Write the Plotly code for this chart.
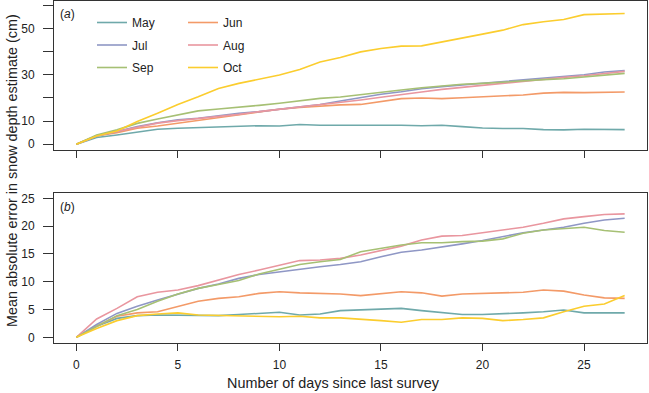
import plotly.graph_objects as go

days = list(range(0, 28))
months = ["May", "Jun", "Jul", "Aug", "Sep", "Oct"]
colors = {"May": "#6fa9aa", "Jun": "#f39a68", "Jul": "#8f97c5",
          "Aug": "#e9969f", "Sep": "#a6c074", "Oct": "#fbcd2e"}

# Panel (a): snow depth estimate (cm)
a_may = [0, 2.9, 4.0, 5.2, 6.5, 6.9, 7.2, 7.6, 8.0, 8.0, 7.9, 8.5, 8.2, 8.2, 8.3, 8.5, 8.2, 8.0, 8.2, 7.6, 7.0, 6.8, 6.8, 6.3, 6.2, 6.5, 6.5, 6.3]
a_jun = [0, 3.6, 5.0, 6.9, 7.9, 9.1, 10.5, 11.5, 12.6, 13.9, 15.1, 15.9, 16.5, 17.0, 17.2, 18.4, 19.7, 20.0, 19.7, 20.1, 20.5, 20.7, 21.3, 22.1, 22.4, 22.3, 22.6, 22.6]
a_jul = [0, 3.6, 5.5, 7.6, 9.3, 10.5, 11.2, 12.4, 13.4, 14.1, 15.1, 15.9, 17.2, 18.7, 20.3, 21.6, 22.7, 24.0, 24.9, 25.6, 26.4, 27.3, 28.0, 28.4, 29.2, 30.0, 31.2, 31.8]
a_aug = [0, 3.7, 5.5, 7.3, 9.1, 10.2, 11.1, 11.9, 12.9, 14.1, 15.1, 15.9, 17.0, 18.0, 19.1, 20.3, 21.6, 22.6, 23.7, 24.6, 25.4, 26.3, 27.2, 28.0, 28.9, 29.6, 30.6, 31.5]
a_sep = [0, 4.0, 6.2, 9.0, 10.9, 12.6, 14.4, 15.2, 15.9, 16.8, 17.7, 18.8, 19.8, 20.4, 21.3, 22.4, 23.4, 24.4, 25.3, 25.9, 26.3, 26.9, 27.4, 27.9, 28.3, 29.0, 29.9, 30.6]
a_oct = [0, 3.6, 5.7, 9.8, 13.4, 17.2, 20.5, 24.1, 26.3, 28.0, 29.9, 32.3, 35.5, 37.5, 39.9, 41.4, 42.4, 42.5, 44.1, 45.8, 47.6, 49.3, 51.7, 52.9, 53.9, 56.0, 56.3, 56.5]

# Panel (b): mean absolute error (cm)
b_may = [0, 2.0, 3.4, 3.9, 4.0, 4.0, 4.0, 3.9, 4.1, 4.3, 4.5, 4.0, 4.2, 4.8, 4.9, 5.1, 5.2, 4.8, 4.4, 4.1, 4.1, 4.2, 4.4, 4.6, 4.9, 4.4, 4.4, 4.4]
b_jun = [0, 2.0, 3.8, 4.4, 4.6, 5.5, 6.5, 7.0, 7.3, 7.9, 8.2, 8.0, 7.9, 7.8, 7.5, 7.9, 8.2, 8.0, 7.4, 7.8, 7.9, 7.9, 8.1, 8.5, 8.3, 7.6, 7.1, 7.0]
b_jul = [0, 2.3, 4.3, 5.6, 6.7, 7.8, 8.8, 9.6, 10.6, 11.3, 11.8, 12.3, 12.7, 13.1, 13.6, 14.5, 15.3, 15.7, 16.2, 16.8, 17.4, 18.1, 18.8, 19.3, 19.8, 20.5, 21.1, 21.4]
b_aug = [0, 3.3, 5.2, 7.3, 8.1, 8.5, 9.3, 10.3, 11.3, 12.1, 13.0, 13.8, 13.9, 14.2, 14.8, 15.6, 16.4, 17.5, 18.2, 18.3, 18.8, 19.3, 19.8, 20.5, 21.3, 21.7, 22.1, 22.2]
b_sep = [0, 1.9, 3.9, 5.0, 6.5, 7.8, 8.8, 9.5, 10.2, 11.4, 12.3, 13.1, 13.6, 14.0, 15.4, 16.0, 16.6, 17.0, 17.0, 17.2, 17.3, 17.7, 18.7, 19.3, 19.5, 19.8, 19.2, 18.9]
b_oct = [0, 1.6, 3.0, 3.9, 4.2, 4.4, 4.0, 3.9, 3.8, 3.7, 3.7, 3.8, 3.5, 3.5, 3.3, 3.0, 2.7, 3.2, 3.2, 3.5, 3.4, 3.0, 3.2, 3.5, 4.6, 5.6, 6.0, 7.5]

x_ticks = [0, 5, 10, 15, 20, 25]
ya_ticks = [0, 10, 20, 30, 40, 50, 60]
ya_labels = ["0", "10", "", "30", "", "50", ""]
yb_ticks = [0, 5, 10, 15, 20, 25]

series_a = {"May": a_may, "Jun": a_jun, "Jul": a_jul, "Aug": a_aug, "Sep": a_sep, "Oct": a_oct}
series_b = {"May": b_may, "Jun": b_jun, "Jul": b_jul, "Aug": b_aug, "Sep": b_sep, "Oct": b_oct}

legend_of = {"May": "legend", "Jul": "legend", "Sep": "legend",
             "Jun": "legend2", "Aug": "legend2", "Oct": "legend2"}

fig = go.Figure()
for m in months:
    fig.add_trace(go.Scatter(x=days, y=series_a[m], mode="lines", name=m,
                             line=dict(color=colors[m], width=1.6),
                             xaxis="x", yaxis="y", legend=legend_of[m],
                             legendgroup=m, showlegend=True))
for m in months:
    fig.add_trace(go.Scatter(x=days, y=series_b[m], mode="lines", name=m,
                             line=dict(color=colors[m], width=1.6),
                             xaxis="x2", yaxis="y2", legendgroup=m, showlegend=False))

W, H = 649, 393
xdom = [54 / W, 647 / W]
ya_dom = [1 - 150 / H, 1 - 1 / H]
yb_dom = [1 - 342.7 / H, 1 - 193.3 / H]

axcol = "#333333"
font_family = "Liberation Sans, Arial, sans-serif"

common_x = dict(range=[-1.1, 28.1], tickvals=x_ticks, ticks="outside", ticklen=7,
                tickcolor=axcol, showline=True, linecolor=axcol, linewidth=1,
                mirror=True, showgrid=False, zeroline=False, domain=xdom,
                automargin=False, ticklabelstandoff=4)
common_y = dict(ticks="outside", ticklen=10, tickcolor=axcol, showline=True,
                linecolor=axcol, linewidth=1, mirror=True, showgrid=False,
                zeroline=False, automargin=False, ticklabelstandoff=6)

fig.update_layout(
    width=W, height=H,
    margin=dict(l=0, r=0, t=0, b=0),
    paper_bgcolor="white", plot_bgcolor="white",
    font=dict(family=font_family, size=12, color="#222222"),
    xaxis=dict(**common_x, anchor="y", showticklabels=False),
    yaxis=dict(**common_y, domain=ya_dom, range=[-2.5, 61.9], tickvals=ya_ticks,
               ticktext=ya_labels, anchor="x"),
    xaxis2=dict(**common_x, anchor="y2"),
    yaxis2=dict(**common_y, domain=yb_dom, range=[-0.97, 25.9], tickvals=yb_ticks,
                anchor="x2"),
    legend=dict(x=92 / W, y=1 - 8 / H, xanchor="left", yanchor="top",
                bgcolor="rgba(0,0,0,0)", tracegroupgap=3.5,
                font=dict(size=12)),
    legend2=dict(x=183 / W, y=1 - 8 / H, xanchor="left", yanchor="top",
                 bgcolor="rgba(0,0,0,0)", tracegroupgap=3.5,
                 font=dict(size=12)),
    annotations=[
        dict(text="Mean absolute error in snow depth estimate (cm)", textangle=-90,
             x=12 / W, y=1 - 171 / H, xref="paper", yref="paper",
             xanchor="center", yanchor="middle", showarrow=False,
             font=dict(size=14.4)),
        dict(text="Number of days since last survey",
             x=(227 + 439) / 2 / W, y=1 - 383 / H, xref="paper", yref="paper",
             xanchor="center", yanchor="middle", showarrow=False,
             font=dict(size=14.4)),
        dict(text="(<i>a</i>)", x=58 / W, y=1 - 14 / H, xref="paper", yref="paper",
             xanchor="left", yanchor="middle", showarrow=False, font=dict(size=12)),
        dict(text="(<i>b</i>)", x=58 / W, y=1 - 207 / H, xref="paper", yref="paper",
             xanchor="left", yanchor="middle", showarrow=False, font=dict(size=12)),
    ],
)

fig.write_html("out.html", config={"displayModeBar": False},
               post_script="document.body.style.margin='0px';document.body.style.padding='0px';")
